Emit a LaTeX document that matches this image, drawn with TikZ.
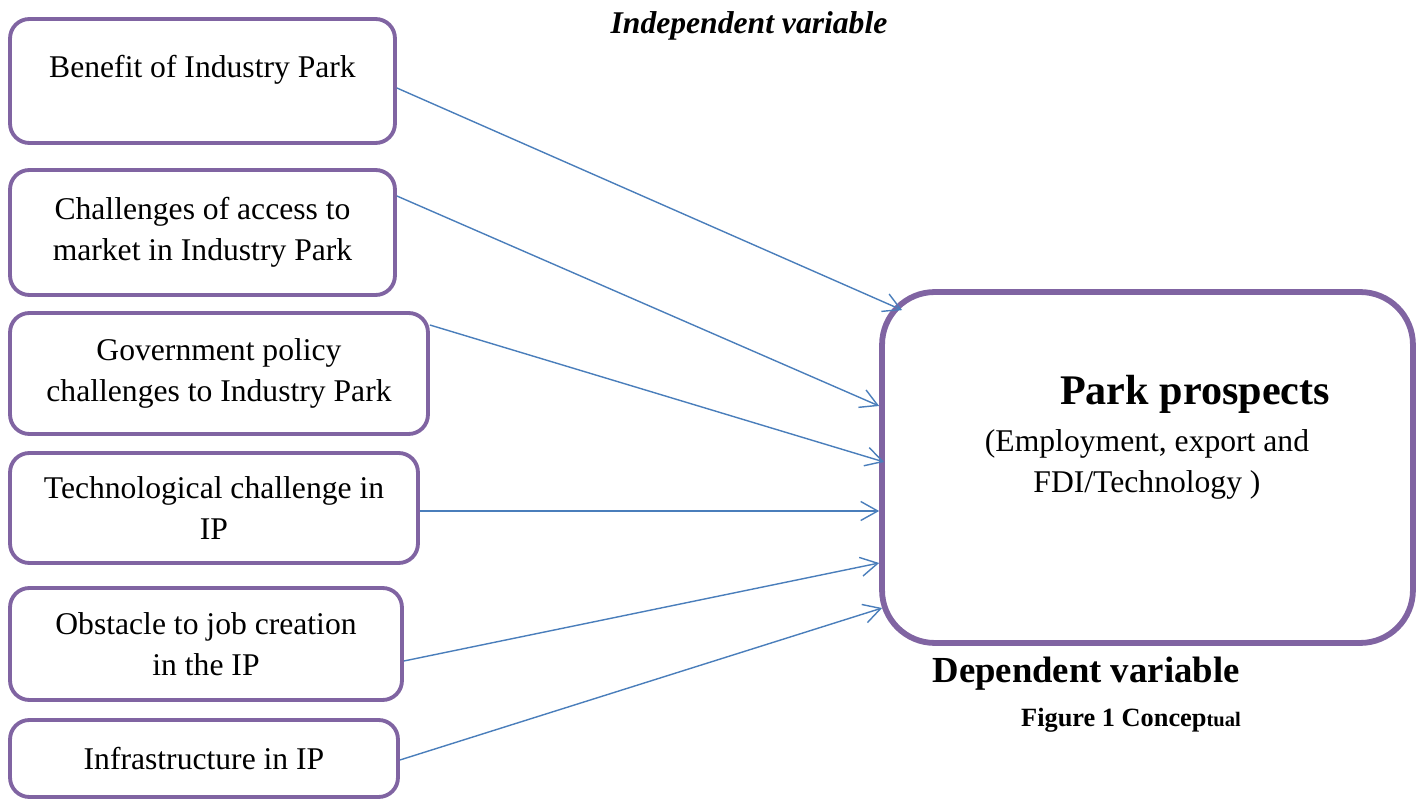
\documentclass[tikz,border=0pt]{standalone}
\usepackage{fontspec}
\setmainfont{Liberation Serif}
\usetikzlibrary{arrows.meta,calc}
\definecolor{boxpurple}{HTML}{8064A2}
\definecolor{linkblue}{HTML}{4A7EBB}

\begin{document}
\begin{tikzpicture}[x=0.02cm,y=-0.02cm,
  factor/.style={draw=boxpurple,line width=2.2pt,rounded corners=11pt,align=center,inner sep=0,font=\fontsize{18}{23.3}\selectfont},
  prospect/.style={draw=boxpurple,line width=3.3pt,rounded corners=30pt,inner sep=0},
  link/.style={draw=linkblue,line width=0.8pt,-{Straight Barb[length=3.4mm,width=3.8mm]}}]
\useasboundingbox (0,0) rectangle (1421,800);

\node[font=\bfseries\itshape\fontsize{18}{22}\selectfont] (indep) at (749,26) {Independent variable};

\node[factor,minimum width=7.7cm,minimum height=2.48cm] (b1) at (202.5,81) {Benefit of Industry Park\\[-14pt]\strut};
\node[factor,minimum width=7.7cm,minimum height=2.5cm] (b2) at (202.5,232.5) {Challenges of access to\\market in Industry Park};
\node[factor,minimum width=8.36cm,minimum height=2.42cm] (b3) at (219,373.5) {Government policy\\challenges to Industry Park};
\node[factor,minimum width=8.16cm,minimum height=2.2cm] (b4) at (214,508) {Technological challenge in\\IP};
\node[factor,minimum width=7.84cm,minimum height=2.24cm] (b5) at (206,644) {Obstacle to job creation\\in the IP};
\node[factor,minimum width=7.76cm,minimum height=1.54cm] (b6) at (204,758.5) {Infrastructure in IP};

\node[prospect,minimum width=10.62cm,minimum height=7.02cm] (park) at (1147.5,467.5) {};
\node[font=\bfseries\fontsize{24}{29}\selectfont] (ptitle) at (1195,394) {Park prospects};
\node[align=center,font=\fontsize{18}{23.3}\selectfont] (pdesc) at (1147,464) {(Employment, export and\\FDI/Technology )};

\node[font=\bfseries\fontsize{20.9}{24}\selectfont] (dep) at (1086,674) {Dependent variable};
\node[font=\bfseries\fontsize{15}{18}\selectfont] (fig) at (1131,720) {Figure 1 Concep{\fontsize{11.7}{14}\selectfont tual}};

% factors -> prospects
\draw[link] (b1.east |- 0,88) -- ($(park.north west)+(23,21)$);
\draw[link] (b2.east |- 0,196) -- (park.west |- 0,406);
\draw[link] (b3.east |- 0,325) -- ($(park.west |- 0,462)+(5,0)$);
\draw[link] (b4.east |- 0,511) -- (park.west |- 0,511);
\draw[link] (b5.east |- 0,661) -- (park.west |- 0,563);
\draw[link] (b6.east |- 0,760) -- ($(park.west |- 0,608)+(3,0)$);
\end{tikzpicture}
\end{document}
